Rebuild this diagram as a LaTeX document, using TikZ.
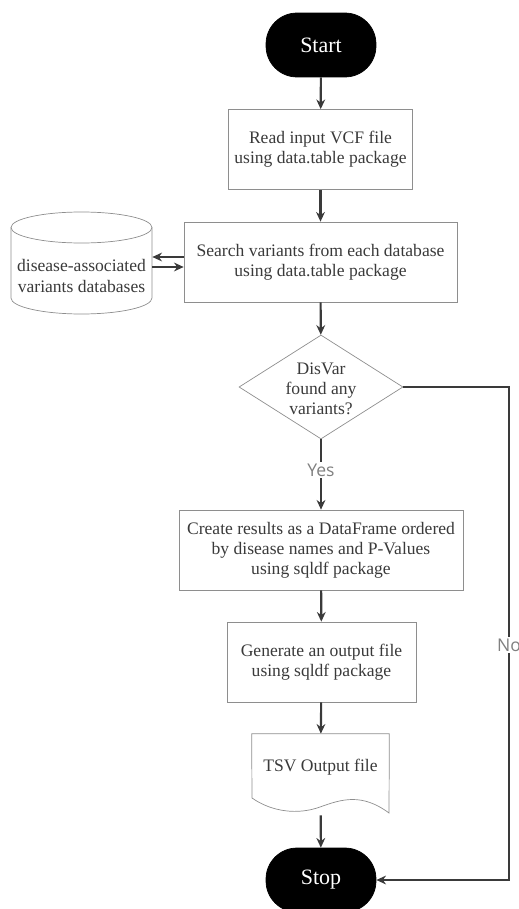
\documentclass[tikz,border=0pt]{standalone}
\usepackage{fontspec}
\setmainfont{Liberation Serif}
\newfontfamily\lblfont{Open Sans}
\usepackage{tikz}
\usetikzlibrary{shapes.geometric,arrows.meta}
\definecolor{ink}{HTML}{3A3A3A}
\definecolor{rim}{HTML}{8E8E8E}
\tikzstyle{term}=[shape=rectangle,rounded corners=0.62cm,fill=black,draw=black,text=white,minimum width=2.2cm,minimum height=1.28cm,font=\fontsize{12.5}{15}\selectfont]
\tikzstyle{proc}=[shape=rectangle,draw=rim,text=ink,align=center,minimum height=1.6cm,font=\fontsize{10}{11.5}\selectfont]
\tikzstyle{dec}=[shape=diamond,draw=rim,inner sep=0pt,minimum width=3.28cm,minimum height=2.08cm]
\tikzstyle{txt}=[text=ink,align=center,font=\fontsize{10}{11.5}\selectfont]
\tikzstyle{lbl}=[fill=white,text=gray,inner sep=1pt,font=\lblfont\fontsize{10}{12}\selectfont]
\tikzstyle{line}=[draw=ink,line width=1.2pt]
\tikzstyle{from}=[<-,>={Stealth[length=5.5pt,width=5pt]},draw=ink,line width=1.2pt]
\tikzstyle{to}=[->,>={Stealth[length=5.5pt,width=5pt]},draw=ink,line width=1.2pt]

\begin{document}
\begin{tikzpicture}[x=0.02cm,y=-0.02cm]
        \useasboundingbox (0,0) rectangle (519,909);
        \node[term] (start) at (321,45) {Start}
        ;
        \node[proc,minimum width=3.66cm] (read) at (320.5,149.5) {Read input VCF file\\using data.table package}
            edge[from] (start)
        ;
        \node[proc,minimum width=5.46cm] (search) at (320.5,262) {Search variants from each database\\using data.table package}
            edge[from] (read)
        ;
        % database cylinder
        \draw[rim] (11,227.5) -- (11,298) arc[start angle=180,end angle=360,x radius=1.41cm,y radius=0.32cm] -- (152,227.5);
        \draw[rim] (81.5,227.5) ellipse[x radius=1.41cm,y radius=0.31cm];
        \node[txt,minimum width=2.82cm,inner sep=0pt] (db) at (81.5,276) {disease-associated\\variants databases}
        ;
        \draw[to] ([yshift=0.1cm]search.west) -- ([yshift=0.1cm]search.west -| db.east);
        \draw[from] ([yshift=-0.1cm]search.west) -- ([yshift=-0.1cm]search.west -| db.east);
        \node[dec] (dec) at (321,387) {}
            edge[from] (search)
        ;
        \node[txt] (dectxt) at (321,389) {DisVar\\found any\\variants?}
        ;
        \node[lbl] (yes) at (321,470) {Yes}
        ;
        \draw[line] (dec.south) -- (yes);
        \node[proc,minimum width=5.68cm] (create) at (321,550) {Create results as a DataFrame ordered\\by disease names and P-Values\\using sqldf package}
            edge[from] (yes)
        ;
        \node[proc,minimum width=3.78cm] (gen) at (321.5,662) {Generate an output file\\using sqldf package}
            edge[from] (create)
        ;
        % output document
        \node[minimum width=2.74cm,minimum height=1.62cm,inner sep=0pt] (tsv) at (320.5,774.5) {}
            edge[from] (gen)
        ;
        \draw[rim] (tsv.north west) -- (tsv.north east) -- (389,813)
            .. controls (362,793) and (342,799) .. (320,807)
            .. controls (298,815) and (272,812) .. (252,798) -- cycle;
        \node[txt] (tsvtxt) at (320.5,767) {TSV Output file}
        ;
        \node[term] (stop) at (321,880) {Stop}
            edge[from] (tsv)
        ;
        \node[lbl] (no) at (509,645) {No}
        ;
        \draw[line] (dec.east) -| (no);
        \draw[to] (no) |- (stop.east);
    \end{tikzpicture}
\end{document}
